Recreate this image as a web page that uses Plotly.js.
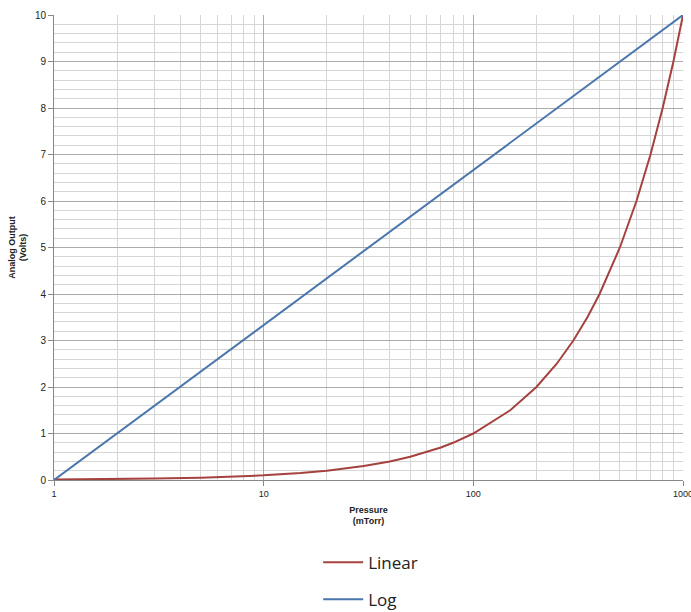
<!DOCTYPE html>
<html>
<head>
<meta charset="utf-8">
<script src="https://cdn.plot.ly/plotly-3.0.1.min.js"></script>
<style>html,body{margin:0;padding:0;background:#fff;}#chart{width:691px;height:612px;}</style>
</head>
<body>
<div id="chart"></div>
<script>
// Pressure (mTorr) and analog output (Volts)
const linearP = [1, 2, 3, 5, 7, 10, 15, 20, 30, 40, 50, 70, 80, 100, 150, 200, 250, 300, 350, 400, 500, 600, 700, 800, 900, 1000];
const linearV = [0.01, 0.02, 0.03, 0.05, 0.07, 0.1, 0.15, 0.2, 0.3, 0.4, 0.5, 0.7, 0.8, 1, 1.5, 2, 2.5, 3, 3.5, 4, 5, 6, 7, 8, 9, 10];
const logP = [1, 10, 20, 50, 80, 100, 200, 500, 600, 700, 1000];
const logV = [0, 3.33, 4.34, 5.66, 6.34, 6.67, 7.67, 9.0, 9.26, 9.48, 10];
const xTickVals = [1, 10, 100, 1000];
const xTickText = ['1', '10', '100', '1000'];
const yTickVals = [0, 1, 2, 3, 4, 5, 6, 7, 8, 9, 10];

const traces = [
  {x: linearP, y: linearV, name: 'Linear', type: 'scatter', mode: 'lines',
   line: {color: '#A5423F', width: 2}, legendgroup: 'a'},
  {x: logP, y: logV, name: 'Log', type: 'scatter', mode: 'lines',
   line: {color: '#4A75AD', width: 2}, legendgroup: 'b'}
];

const layout = {
  width: 691, height: 612,
  margin: {l: 54, r: 8, t: 15, b: 132, autoexpand: false},
  paper_bgcolor: '#fff', plot_bgcolor: '#fff',
  font: {family: 'Liberation Sans, Arial, sans-serif', color: '#222'},
  showlegend: true,
  legend: {x: 0.42, xanchor: 'left', yref: 'container', y: 0.11, yanchor: 'top',
    font: {size: 17, family: 'Open Sans, sans-serif', color: '#222'},
    itemwidth: 40, tracegroupgap: 12, bgcolor: 'rgba(0,0,0,0)'},
  xaxis: {
    type: 'log', range: [0, 3],
    tickvals: xTickVals, ticktext: xTickText,
    ticklabeloverflow: 'allow',
    ticks: 'outside', ticklen: 5, tickcolor: '#888',
    tickfont: {size: 9, color: '#222'},
    showgrid: true, gridcolor: '#ababab', gridwidth: 1,
    minor: {dtick: 'D1', showgrid: true, gridcolor: '#d6d6d6', gridwidth: 1, ticks: ''},
    showline: true, linecolor: '#888', linewidth: 1, mirror: false,
    zeroline: false, automargin: false,
    title: {text: '<b>Pressure<br>(mTorr)</b>', font: {size: 9, color: '#222'}, standoff: 8}
  },
  yaxis: {
    range: [0, 10],
    tickvals: yTickVals,
    ticks: 'outside', ticklen: 5, tickcolor: '#888',
    tickfont: {size: 10, color: '#222'},
    showgrid: true, gridcolor: '#ababab', gridwidth: 1,
    minor: {dtick: 0.2, showgrid: true, gridcolor: '#d6d6d6', gridwidth: 1, ticks: ''},
    showline: true, linecolor: '#888', linewidth: 1,
    zeroline: false, automargin: false,
    title: {text: '<b>Analog Output<br>(Volts)</b>', font: {size: 9, color: '#222'}, standoff: 6}
  }
};

Plotly.newPlot('chart', traces, layout, {displayModeBar: false, staticPlot: true});
</script>
</body>
</html>
